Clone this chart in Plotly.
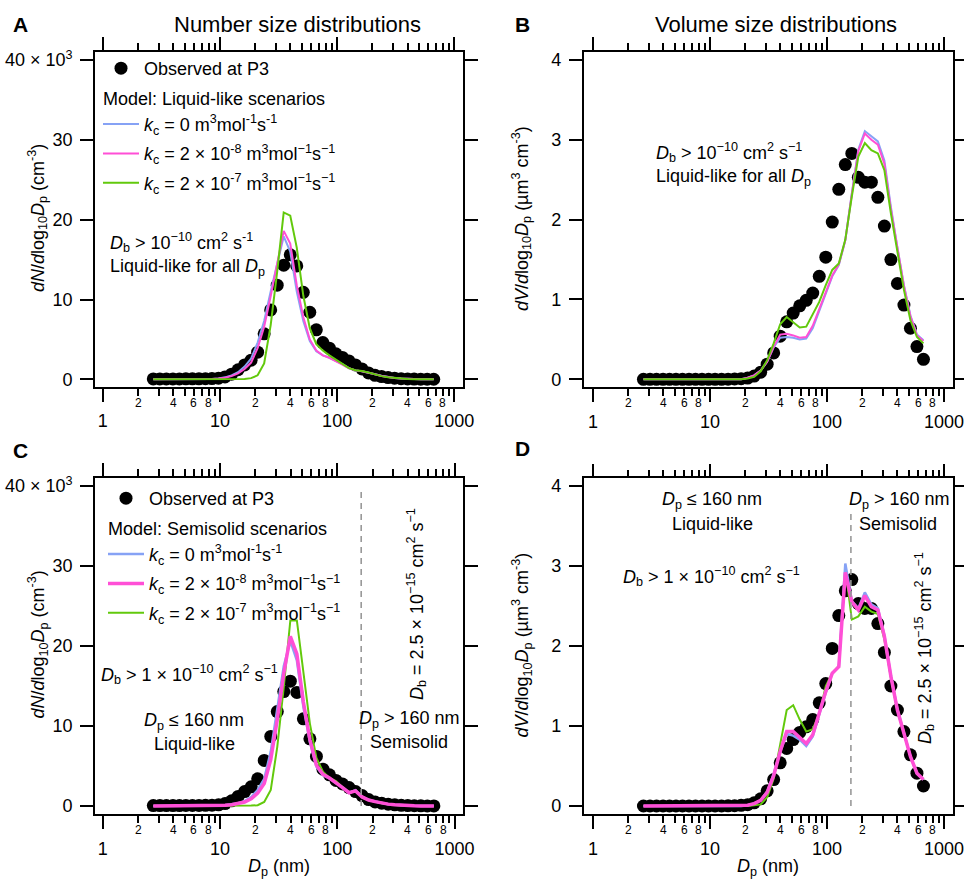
import math
import plotly.graph_objects as go

W, H = 964, 881
FONT = "Liberation Sans, Arial, Helvetica, sans-serif"

# Particle diameter bins (nm)
dp_nm = [2.70, 3.07, 3.49, 3.97, 4.51, 5.12, 5.82, 6.62, 7.52, 8.55,
         9.72, 11.05, 12.56, 14.28, 16.23, 18.45, 20.97, 23.84, 27.10, 30.80,
         35.01, 39.80, 45.24, 51.42, 58.45, 66.44, 75.52, 85.84, 97.58, 110.9,
         126.1, 143.3, 162.9, 185.2, 210.5, 239.3, 272.0, 309.2, 351.4, 399.5,
         454.1, 516.2, 586.7, 666.9]

# Observed at P3: dN/dlog10Dp (10^3 cm^-3) and dV/dlog10Dp (um^3 cm^-3)
obs_number = [0.05, 0.05, 0.05, 0.05, 0.05, 0.06, 0.06, 0.07, 0.08, 0.10,
              0.15, 0.30, 0.65, 1.2, 1.8, 2.4, 3.4, 5.7, 8.7, 11.8,
              14.3, 15.6, 14.2, 10.9, 8.4, 6.2, 4.6, 3.9, 3.2, 2.75,
              2.3, 1.8, 1.3, 0.8, 0.5, 0.34, 0.22, 0.14, 0.08, 0.05,
              0.03, 0.02, 0.01, 0.01]
obs_volume = [0.0, 0.0, 0.0, 0.0, 0.0, 0.0, 0.0, 0.0, 0.0, 0.0,
              0.0, 0.0, 0.0, 0.002, 0.004, 0.008, 0.016, 0.04, 0.09, 0.19,
              0.33, 0.54, 0.72, 0.83, 0.92, 0.99, 1.08, 1.29, 1.53, 1.97,
              2.38, 2.69, 2.83, 2.53, 2.47, 2.47, 2.28, 1.92, 1.50, 1.20,
              0.93, 0.64, 0.41, 0.25]

# Model, liquid-like scenarios (number, 10^3 cm^-3)
liq_number_k0 = [0.0, 0.0, 0.0, 0.0, 0.0, 0.0, 0.0, 0.01, 0.02, 0.05,
                 0.10, 0.25, 0.5, 0.9, 1.6, 2.6, 4.6, 7.3, 11.0, 14.6,
                 17.9, 16.0, 11.0, 7.3, 4.8, 3.5, 3.0, 2.7, 2.35, 1.9,
                 1.4, 1.12, 1.0, 0.86, 0.64, 0.44, 0.29, 0.18, 0.10, 0.05,
                 0.03, 0.01, 0.005, 0.003]
liq_number_k8 = [0.0, 0.0, 0.0, 0.0, 0.0, 0.0, 0.0, 0.01, 0.02, 0.05,
                 0.10, 0.2, 0.4, 0.75, 1.3, 2.1, 3.9, 6.6, 10.4, 14.5,
                 18.6, 17.0, 11.8, 7.8, 5.0, 3.6, 3.0, 2.7, 2.3, 1.85,
                 1.38, 1.12, 1.0, 0.86, 0.64, 0.43, 0.28, 0.17, 0.10, 0.05,
                 0.03, 0.01, 0.005, 0.003]
liq_number_k7 = [0.0, 0.0, 0.0, 0.0, 0.0, 0.0, 0.0, 0.0, 0.0, 0.0,
                 0.0, 0.0, 0.01, 0.02, 0.05, 0.15, 0.5, 2.0, 6.8, 13.5,
                 20.9, 20.5, 16.5, 10.5, 6.4, 4.4, 3.6, 3.0, 2.5, 1.95,
                 1.4, 1.15, 1.05, 0.85, 0.62, 0.4, 0.27, 0.17, 0.09, 0.05,
                 0.023, 0.01, 0.005, 0.003]

# Model, liquid-like scenarios (volume, um^3 cm^-3)
liq_volume_k0 = [0.0, 0.0, 0.0, 0.0, 0.0, 0.0, 0.0, 0.0, 0.0, 0.0,
                 0.0, 0.0, 0.0, 0.0, 0.0, 0.0, 0.02, 0.05, 0.11, 0.22,
                 0.40, 0.52, 0.53, 0.52, 0.50, 0.51, 0.64, 0.86, 1.08, 1.29,
                 1.43, 1.74, 2.33, 2.88, 3.11, 3.04, 2.98, 2.74, 2.16, 1.65,
                 1.18, 0.80, 0.56, 0.49]
liq_volume_k8 = [0.0, 0.0, 0.0, 0.0, 0.0, 0.0, 0.0, 0.0, 0.0, 0.0,
                 0.0, 0.0, 0.0, 0.0, 0.0, 0.0, 0.02, 0.05, 0.11, 0.22,
                 0.41, 0.56, 0.57, 0.55, 0.52, 0.53, 0.67, 0.88, 1.10, 1.30,
                 1.44, 1.74, 2.32, 2.86, 3.08, 3.00, 2.94, 2.70, 2.13, 1.63,
                 1.17, 0.79, 0.55, 0.48]
liq_volume_k7 = [0.0, 0.0, 0.0, 0.0, 0.0, 0.0, 0.0, 0.0, 0.0, 0.0,
                 0.0, 0.0, 0.0, 0.0, 0.0, 0.0, 0.01, 0.03, 0.10, 0.24,
                 0.45, 0.69, 0.78, 0.71, 0.65, 0.66, 0.81, 0.97, 1.18, 1.37,
                 1.45, 1.75, 2.29, 2.79, 2.96, 2.87, 2.83, 2.62, 2.08, 1.58,
                 1.12, 0.74, 0.53, 0.45]

# Model, semisolid scenarios (number, 10^3 cm^-3)
semi_number_k0 = [0.0, 0.0, 0.0, 0.0, 0.0, 0.0, 0.0, 0.01, 0.02, 0.03,
                  0.05, 0.1, 0.2, 0.35, 0.6, 1.1, 2.0, 3.4, 6.8, 12.0,
                  17.5, 20.6, 18.2, 12.4, 8.0, 4.9, 3.85, 3.45, 2.9, 2.3,
                  1.65, 1.97, 1.15, 0.76, 0.55, 0.35, 0.23, 0.14, 0.07, 0.036,
                  0.019, 0.009, 0.004, 0.002]
semi_number_k8 = [0.0, 0.0, 0.0, 0.0, 0.0, 0.0, 0.0, 0.01, 0.02, 0.03,
                  0.04, 0.08, 0.15, 0.3, 0.5, 0.9, 1.6, 2.8, 5.8, 10.8,
                  16.6, 21.2, 19.0, 13.0, 8.3, 5.1, 3.95, 3.5, 2.95, 2.3,
                  1.66, 1.89, 1.13, 0.74, 0.54, 0.35, 0.23, 0.14, 0.07, 0.036,
                  0.019, 0.009, 0.004, 0.002]
semi_number_k7 = [0.0, 0.0, 0.0, 0.0, 0.0, 0.0, 0.0, 0.0, 0.0, 0.0,
                  0.0, 0.0, 0.0, 0.01, 0.02, 0.05, 0.1, 0.5, 2.0, 7.4,
                  14.9, 23.2, 23.2, 17.0, 10.3, 6.0, 4.3, 3.5, 3.1, 2.35,
                  1.68, 1.93, 1.03, 0.71, 0.51, 0.34, 0.23, 0.13, 0.07, 0.035,
                  0.018, 0.008, 0.004, 0.002]

# Model, semisolid scenarios (volume, um^3 cm^-3)
semi_volume_k0 = [0.0, 0.0, 0.0, 0.0, 0.0, 0.0, 0.0, 0.0, 0.0, 0.0,
                  0.0, 0.0, 0.0, 0.0, 0.0, 0.0, 0.01, 0.03, 0.07, 0.18,
                  0.40, 0.68, 0.90, 0.88, 0.83, 0.75, 0.87, 1.15, 1.42, 1.66,
                  1.74, 3.03, 2.56, 2.47, 2.67, 2.52, 2.47, 2.13, 1.63, 1.21,
                  0.92, 0.62, 0.41, 0.33]
semi_volume_k8 = [0.0, 0.0, 0.0, 0.0, 0.0, 0.0, 0.0, 0.0, 0.0, 0.0,
                  0.0, 0.0, 0.0, 0.0, 0.0, 0.0, 0.01, 0.03, 0.07, 0.17,
                  0.38, 0.68, 0.93, 0.93, 0.86, 0.78, 0.89, 1.16, 1.43, 1.66,
                  1.74, 2.92, 2.55, 2.45, 2.63, 2.49, 2.45, 2.12, 1.62, 1.20,
                  0.91, 0.62, 0.41, 0.33]
semi_volume_k7 = [0.0, 0.0, 0.0, 0.0, 0.0, 0.0, 0.0, 0.0, 0.0, 0.0,
                  0.0, 0.0, 0.0, 0.0, 0.0, 0.0, 0.0, 0.01, 0.02, 0.11,
                  0.34, 0.77, 1.20, 1.26, 1.08, 0.93, 0.96, 1.15, 1.50, 1.66,
                  1.75, 2.97, 2.33, 2.37, 2.49, 2.43, 2.40, 2.08, 1.60, 1.19,
                  0.90, 0.62, 0.41, 0.33]

# Phase-state boundary diameter (nm) and extent of the marker line
boundary_dp = 160
boundary_top_number = 39.3
boundary_top_volume = 3.7

# Axis ticks
major_ticks = [1, 10, 100, 1000]
major_text = ["1", "10", "100", "1000"]
minor_digits = [2, 3, 4, 5, 6, 7, 8, 9]
labelled_digits = [2, 4, 6, 8]
decades = [1, 10, 100]
number_ticks = [0, 10, 20, 30, 40]
number_text = ["0", "10", "20", "30", "40 × 10<sup>3</sup>"]
volume_ticks = [0, 1, 2, 3, 4]
volume_text = ["0", "1", "2", "3", "4"]

BLUE = "#86a2f5"
PINK = "#ff4fd6"
GREEN = "#62c90c"

k0_label = "<i>k</i><sub>c</sub> = 0 m<sup>3</sup>mol<sup>-1</sup>s<sup>-1</sup>"
k8_label = "<i>k</i><sub>c</sub> = 2 × 10<sup>-8</sup> m<sup>3</sup>mol<sup>−1</sup>s<sup>−1</sup>"
k7_label = "<i>k</i><sub>c</sub> = 2 × 10<sup>-7</sup> m<sup>3</sup>mol<sup>−1</sup>s<sup>−1</sup>"


def px_x(px):
    return px / W


def px_y(py):
    return 1 - py / H


minor_vals = [d * m for d in decades for m in minor_digits]

# Panel frames in pixels: (x0, x1), (y_top, y_bottom), log-x range, y range
panels = {
    "": dict(xp=(95, 463), yp=(52, 387), xr=(-0.066, 3.074), yr=(-0.96, 41.0),
             yt=(number_ticks, number_text)),
    "2": dict(xp=(583.6, 952.7), yp=(51.7, 387.3), xr=(-0.080, 3.074), yr=(-0.1, 4.104),
              yt=(volume_ticks, volume_text)),
    "3": dict(xp=(95, 463.3), yp=(477.7, 814.3), xr=(-0.066, 3.075), yr=(-1.04, 41.04),
              yt=(number_ticks, number_text)),
    "4": dict(xp=(583.6, 952.7), yp=(478.3, 814.3), xr=(-0.080, 3.074), yr=(-0.104, 4.096),
              yt=(volume_ticks, volume_text)),
}

layout = dict(
    width=W, height=H, margin=dict(l=0, r=0, t=0, b=0, autoexpand=False),
    paper_bgcolor="white", plot_bgcolor="white",
    font=dict(family=FONT, size=18, color="black"),
    showlegend=True,
)

annotations = []
shapes = []

for key, p in panels.items():
    layout["xaxis" + key] = dict(
        type="log", range=list(p["xr"]),
        domain=[px_x(p["xp"][0]), px_x(p["xp"][1])],
        anchor="y" + key, automargin=False,
        showline=True, linecolor="black", linewidth=1.6, mirror="ticks",
        ticks="outside", ticklen=13, tickwidth=1.5, tickcolor="black",
        tickmode="array", tickvals=major_ticks, ticktext=major_text,
        tickfont=dict(family=FONT, size=18, color="black"),
        ticklabelstandoff=4, ticklabeloverflow="allow",
        minor=dict(ticks="outside", ticklen=7, tickwidth=1.5, tickcolor="black",
                   tickvals=minor_vals, showgrid=False),
        showgrid=False, zeroline=False,
    )
    layout["yaxis" + key] = dict(
        range=list(p["yr"]),
        domain=[px_y(p["yp"][1]), px_y(p["yp"][0])],
        anchor="x" + key, automargin=False,
        showline=True, linecolor="black", linewidth=1.6, mirror="ticks",
        ticks="outside", ticklen=13, tickwidth=1.5, tickcolor="black",
        tickmode="array", tickvals=p["yt"][0], ticktext=p["yt"][1],
        tickfont=dict(family=FONT, size=18, color="black"),
        ticklabelstandoff=4, ticklabeloverflow="allow",
        showgrid=False, zeroline=False,
    )
    # small digit labels between decades
    for d in decades:
        for m in labelled_digits:
            annotations.append(dict(
                x=math.log10(d * m), y=px_y(p["yp"][1]), xref="x" + key, yref="paper",
                text=str(m), showarrow=False, xanchor="center", yanchor="middle",
                yshift=-15.5, font=dict(family=FONT, size=12, color="black")))


def note(x, y, text, size=18, xanchor="left", yanchor="middle", angle=0):
    annotations.append(dict(
        x=px_x(x), y=px_y(y), xref="paper", yref="paper", text=text,
        showarrow=False, xanchor=xanchor, yanchor=yanchor, textangle=angle,
        font=dict(family=FONT, size=size, color="black")))


# Panel letters and column titles
note(11, 24.5, "<b>A</b>", size=21)
note(513, 24.5, "<b>B</b>", size=21)
note(11, 451, "<b>C</b>", size=21)
note(513, 448, "<b>D</b>", size=21)
note(297, 24.5, "Number size distributions", size=22, xanchor="center")
note(776, 24.5, "Volume size distributions", size=22, xanchor="center")

# Axis titles
ylab_n = "<i>dN</i>/<i>d</i>log<sub>10</sub><i>D</i><sub>p</sub> (cm<sup>-3</sup>)"
ylab_v = "<i>dV</i>/<i>d</i>log<sub>10</sub><i>D</i><sub>p</sub> (µm<sup>3</sup> cm<sup>-3</sup>)"
note(37.5, 218.5, ylab_n, xanchor="center", angle=-90)
note(521.5, 218.5, ylab_v, xanchor="center", angle=-90)
note(37.5, 645, ylab_n, xanchor="center", angle=-90)
note(521.5, 645, ylab_v, xanchor="center", angle=-90)
note(279, 867, "<i>D</i><sub>p</sub> (nm)", xanchor="center")
note(768, 867, "<i>D</i><sub>p</sub> (nm)", xanchor="center")

# In-panel text
db_liquid = "<i>D</i><sub>b</sub> > 10<sup>−10</sup> cm<sup>2</sup> s<sup>-1</sup>"
db_liquid_b = "<i>D</i><sub>b</sub> > 10<sup>−10</sup> cm<sup>2</sup> s<sup>−1</sup>"
all_liquid = "Liquid-like for all <i>D</i><sub>p</sub>"
db_low = "<i>D</i><sub>b</sub> > 1 × 10<sup>−10</sup> cm<sup>2</sup> s<sup>−1</sup>"
db_high = "<i>D</i><sub>b</sub> = 2.5 × 10<sup>−15</sup> cm<sup>2</sup> s<sup>−1</sup>"
small_dp = "<i>D</i><sub>p</sub> ≤ 160 nm"
large_dp = "<i>D</i><sub>p</sub> > 160 nm"

note(108, 242, db_liquid)
note(108, 267, all_liquid)
note(654, 152, db_liquid_b)
note(654, 177, all_liquid)

note(99, 674, db_low)
note(194, 721, small_dp, xanchor="center")
note(194, 744, "Liquid-like", xanchor="center")
note(409, 719, large_dp, xanchor="center")
note(409, 742, "Semisolid", xanchor="center")
note(416, 604, db_high, xanchor="center", angle=-90)

note(712, 500, small_dp, xanchor="center")
note(712, 524, "Liquid-like", xanchor="center")
note(899, 500, large_dp, xanchor="center")
note(898, 524, "Semisolid", xanchor="center")
note(621, 576, db_low)
note(924, 648, db_high, xanchor="center", angle=-90)

# Dashed phase-state boundary
for key, top in (("3", boundary_top_number), ("4", boundary_top_volume)):
    shapes.append(dict(type="line", xref="x" + key, yref="y" + key,
                       x0=boundary_dp, x1=boundary_dp, y0=0, y1=top,
                       line=dict(color="#999999", width=1.6, dash="6px,5px")))

layout["annotations"] = annotations
layout["shapes"] = shapes

legend_common = dict(xanchor="left", yanchor="top", bgcolor="rgba(0,0,0,0)",
                     borderwidth=0, font=dict(family=FONT, size=18, color="black"),
                     tracegroupgap=3, traceorder="grouped", itemwidth=36)
layout["legend"] = dict(x=px_x(98), y=px_y(50), **legend_common)
layout["legend2"] = dict(x=px_x(103), y=px_y(480), **legend_common)

fig = go.Figure(layout=layout)


def observed(key, values, legend):
    fig.add_trace(go.Scatter(
        x=dp_nm, y=values, mode="markers", name="Observed at P3",
        marker=dict(size=13, color="black"),
        xaxis="x" + key, yaxis="y" + key,
        legend=legend, legendgroup="obs" + key, legendrank=1,
        showlegend=legend is not None and key in ("", "3")))


def model(key, values, name, color, width, rank, legend, group_title=None):
    tr = go.Scatter(
        x=dp_nm, y=values, mode="lines", name=name,
        line=dict(color=color, width=width),
        xaxis="x" + key, yaxis="y" + key,
        legendgroup="m%d%s" % (rank, key), legendrank=rank,
        showlegend=key in ("", "3"),
    )
    if key in ("", "3"):
        tr.legend = legend
    if group_title:
        tr.legendgrouptitle = dict(text=group_title,
                                   font=dict(family=FONT, size=18, color="black"))
    fig.add_trace(tr)


# A: number, liquid-like
observed("", obs_number, "legend")
model("", liq_number_k0, k0_label, BLUE, 2, 2, "legend", "Model: Liquid-like scenarios")
model("", liq_number_k8, k8_label, PINK, 2, 3, "legend")
model("", liq_number_k7, k7_label, GREEN, 2, 4, "legend")

# B: volume, liquid-like
observed("2", obs_volume, None)
model("2", liq_volume_k0, k0_label, BLUE, 2, 2, None)
model("2", liq_volume_k8, k8_label, PINK, 2, 3, None)
model("2", liq_volume_k7, k7_label, GREEN, 2, 4, None)

# C: number, semisolid
observed("3", obs_number, "legend2")
model("3", semi_number_k7, k7_label, GREEN, 2, 4, "legend2")
model("3", semi_number_k0, k0_label, BLUE, 2.5, 2, "legend2", "Model: Semisolid scenarios")
model("3", semi_number_k8, k8_label, PINK, 3.5, 3, "legend2")

# D: volume, semisolid
observed("4", obs_volume, None)
model("4", semi_volume_k7, k7_label, GREEN, 2, 4, None)
model("4", semi_volume_k0, k0_label, BLUE, 2.5, 2, None)
model("4", semi_volume_k8, k8_label, PINK, 3.5, 3, None)

fig.write_html("out.html")
